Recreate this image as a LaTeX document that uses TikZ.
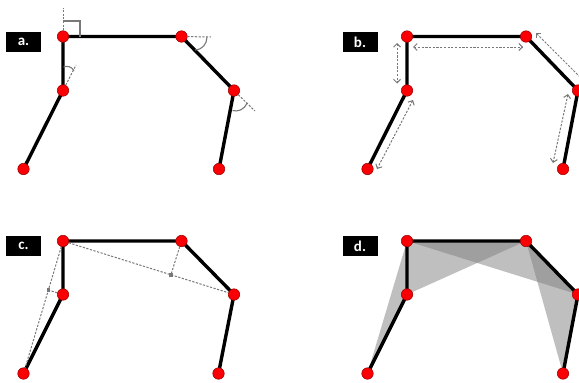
\documentclass[tikz,border=0pt]{standalone}
\usepackage{fontspec}
\setmainfont{Carlito}
\usetikzlibrary{arrows.meta,calc,backgrounds}
\definecolor{jointred}{RGB}{250,0,5}
\definecolor{guidegray}{RGB}{120,120,120}
\tikzset{
  joint/.style={circle, draw=red!60!black, fill=jointred, line width=0.5pt, minimum size=11.5pt, inner sep=0pt},
  tag/.style={fill=black, text=white, font=\bfseries\fontsize{15}{15}\selectfont, minimum width=35pt, minimum height=20pt, inner sep=0pt},
  link/.style={line width=3.4pt, line cap=round},
  guide/.style={guidegray, dash pattern=on 2.2pt off 1.5pt, line width=1pt},
  mark line/.style={guidegray, line width=1.1pt},
  span/.style={guidegray, dash pattern=on 2.2pt off 1.5pt, line width=1pt, {Straight Barb[length=3.5pt,width=7pt]}-{Straight Barb[length=3.5pt,width=7pt]}},
  foot/.style={fill=guidegray, minimum size=3.5pt, inner sep=0pt},
  shade tri/.style={fill=gray, fill opacity=0.5}
}
\begin{document}
\begin{tikzpicture}[x=1pt, y=-1pt]
  \clip (0,0) rectangle (579,383);

  % a. angles
  \node[tag] (taga) at (23.5,42) {a.};
  \node[joint] (a1) at (63,36.5) {};
  \node[joint] (a2) at (181.5,36.5) {};
  \node[joint] (a3) at (234,90.5) {};
  \node[joint] (a4) at (63,90.5) {};
  \node[joint] (a5) at (23.5,169) {};
  \node[joint] (a6) at (219,169) {};
  \begin{scope}[on background layer]
    \draw[link] (a5.center) -- (a4.center) -- (a1.center) -- (a2.center) -- (a3.center) -- (a6.center);
  \end{scope}
  \coordinate (atop) at (63,8);
  \coordinate (aright) at (211,37);
  \coordinate (akink) at (76,65);
  \coordinate (afar) at (255,111);
  \draw[guide] (a1) -- (atop);
  \draw[guide] (a2) -- (aright);
  \draw[guide] (a4) -- (akink);
  \draw[guide] (a3) -- (afar);
  \draw[mark line] (63,21) -- (80,21) -- (80,36.5);
  \draw[mark line] (63.5,67) .. controls (67,65.5) and (72,66.5) .. (74,71);
  \draw[mark line] (207,37) .. controls (207,44) and (202,50) .. (195,50);
  \draw[mark line] (247,103) .. controls (244,110) and (238,112) .. (232.5,110.5);

  % b. lengths
  \node[tag] (tagb) at (360,42) {b.};
  \node[joint] (b1) at (407,36.5) {};
  \node[joint] (b2) at (526,36.5) {};
  \node[joint] (b3) at (578,90.5) {};
  \node[joint] (b4) at (407,90.5) {};
  \node[joint] (b5) at (367.5,169) {};
  \node[joint] (b6) at (563,169) {};
  \begin{scope}[on background layer]
    \draw[link] (b5.center) -- (b4.center) -- (b1.center) -- (b2.center) -- (b3.center) -- (b6.center);
  \end{scope}
  \draw[span] (397,43) -- (397,83.5);
  \draw[span] (413,47) -- (523,47);
  \draw[span] (413,100) -- (377,169);
  \draw[span] (568,94) -- (553,163);
  \draw[span] (536,33) -- (590,87);

  % c. heights
  \node[tag] (tagc) at (23.5,246) {c.};
  \node[joint] (c1) at (63,241) {};
  \node[joint] (c2) at (181.5,241) {};
  \node[joint] (c3) at (234,294.5) {};
  \node[joint] (c4) at (63,294.5) {};
  \node[joint] (c5) at (23.5,373.5) {};
  \node[joint] (c6) at (218.5,373.5) {};
  \begin{scope}[on background layer]
    \draw[link] (c5.center) -- (c4.center) -- (c1.center) -- (c2.center) -- (c3.center) -- (c6.center);
  \end{scope}
  \coordinate (cfootr) at ($(c1)!(c2)!(c3)$);
  \coordinate (cfootl) at ($(c1)!(c4)!(c5)$);
  \draw[guide] (c1) -- (c3);
  \draw[guide] (c1) -- (c5);
  \draw[guide] (c2) -- (cfootr);
  \draw[guide] (c4) -- (cfootl);
  \node[foot] (cmarkr) at (cfootr) {};
  \node[foot] (cmarkl) at (cfootl) {};

  % d. areas
  \node[tag] (tagd) at (360,246) {d.};
  \node[joint] (d1) at (407,241) {};
  \node[joint] (d2) at (526,241) {};
  \node[joint] (d3) at (578,294.5) {};
  \node[joint] (d4) at (407,294.5) {};
  \node[joint] (d5) at (367.5,373.5) {};
  \node[joint] (d6) at (563,373.5) {};
  \begin{scope}[on background layer]
    \fill[shade tri] (d1.center) -- (d4.center) -- (d5.center) -- cycle;
    \fill[shade tri] (d1.center) -- (d2.center) -- (d4.center) -- cycle;
    \fill[shade tri] (d1.center) -- (d2.center) -- (d3.center) -- cycle;
    \fill[shade tri] (d2.center) -- (d3.center) -- (d6.center) -- cycle;
    \draw[link] (d5.center) -- (d4.center) -- (d1.center) -- (d2.center) -- (d3.center) -- (d6.center);
  \end{scope}
\end{tikzpicture}
\end{document}
